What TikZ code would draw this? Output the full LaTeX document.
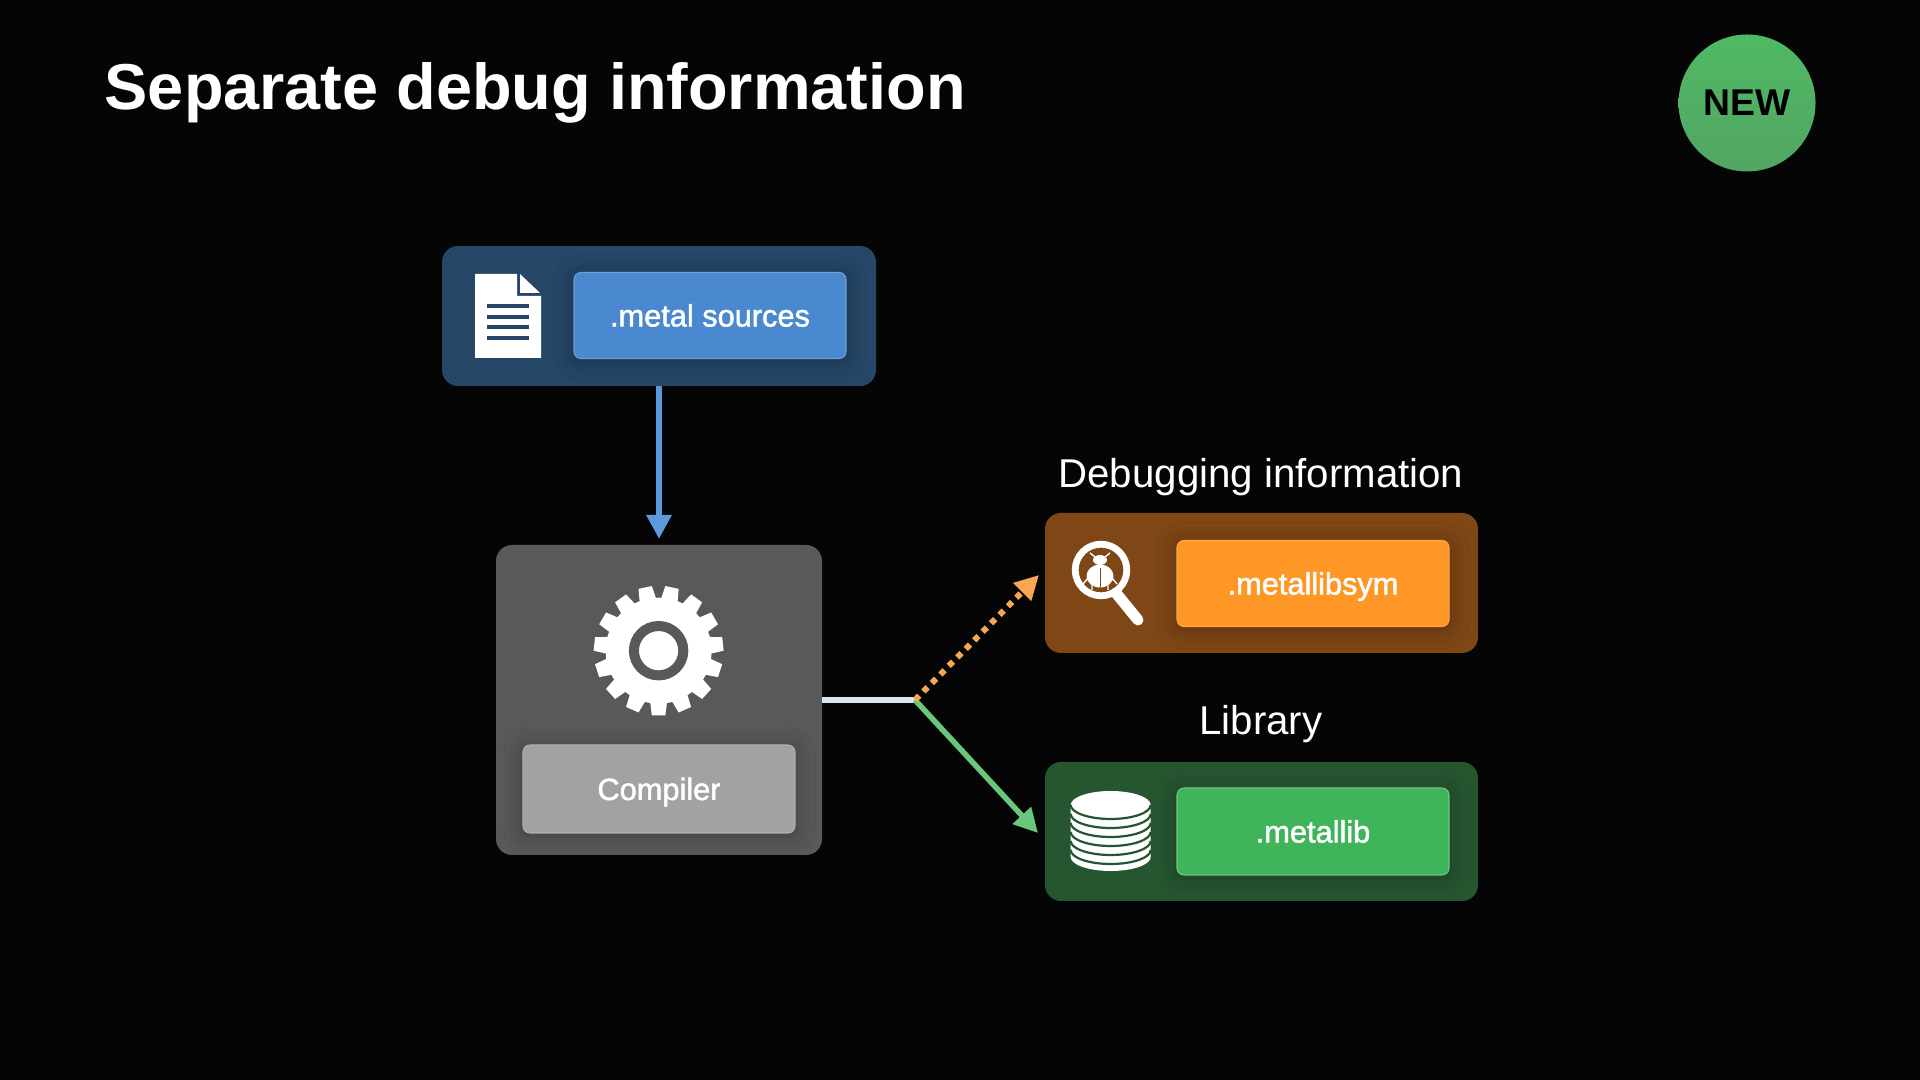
\documentclass[tikz,border=0pt]{standalone}
\usepackage{fontspec}
\setmainfont{Liberation Sans}
\newfontfamily\mediumfont[FakeBold=1.6]{Liberation Sans}
\usetikzlibrary{arrows.meta,shadows.blur}

\definecolor{slidebg}{HTML}{050505}
\definecolor{blueouter}{HTML}{264767}
\definecolor{blueinner}{HTML}{4A89CF}
\definecolor{blueline}{HTML}{5B9BDB}
\definecolor{greyouter}{HTML}{585959}
\definecolor{greyinner}{HTML}{A0A2A4}
\definecolor{orangeouter}{HTML}{7F4715}
\definecolor{orangeinner}{HTML}{FF9727}
\definecolor{orangeline}{HTML}{F9A650}
\definecolor{greenouter}{HTML}{265630}
\definecolor{greeninner}{HTML}{3FB45B}
\definecolor{greenline}{HTML}{68C77B}
\definecolor{stemline}{HTML}{DCE6F0}
\definecolor{badgetop}{HTML}{4FBA64}
\definecolor{badgebottom}{HTML}{52A562}

\tikzset{
    panel/.style={rounded corners=0.16cm, inner sep=0pt, outer sep=0pt, minimum width=#1},
    label box/.style={rounded corners=0.07cm, inner sep=0pt, minimum width=2.72cm, minimum height=0.86cm,
        text=white, font=\fontsize{8.75pt}{10pt}\mediumfont, line width=0.3pt, text height=0.25cm, text depth=0.03cm,
        blur shadow={shadow xshift=0pt, shadow yshift=-0.6pt, shadow blur radius=0.2cm, shadow opacity=28}},
    caption/.style={text=white, font=\fontsize{11.45pt}{13pt}\selectfont},
    flow/.style={line width=0.06cm, -{Triangle[length=0.24cm,width=0.24cm]}}
}

\begin{document}
\begin{tikzpicture}
    \useasboundingbox (0,0) rectangle (19.2,10.8);
    \fill[slidebg] (0,0) rectangle (19.2,10.8);

    % Title and badge
    \node[text=white, anchor=west, inner sep=0pt, font=\fontsize{18.45pt}{22pt}\selectfont\bfseries] (title) at (1.04,9.87) {Separate debug information};
    \node[circle, minimum size=1.37cm, inner sep=0pt, top color=badgetop, bottom color=badgebottom, font=\fontsize{10.6pt}{12pt}\selectfont\bfseries, text=black] (badge) at (17.47,9.77) {NEW};

    % Panels
    \node[panel=4.34cm, minimum height=1.40cm, fill=blueouter] (sources) at (6.59,7.64) {};
    \node[panel=3.26cm, minimum height=3.10cm, fill=greyouter] (compiler) at (6.59,3.80) {};
    \node[panel=4.33cm, minimum height=1.40cm, fill=orangeouter] (debug) at (12.615,4.97) {};
    \node[panel=4.33cm, minimum height=1.39cm, fill=greenouter] (library) at (12.615,2.485) {};

    % Boxes
    \node[label box, fill=blueinner, draw=blueinner!80!white] (metal) at (7.10,7.645) {.metal sources};
    \node[label box, fill=greyinner, draw=greyinner!85!white, minimum height=0.88cm] (compilerbox) at (6.59,2.91) {Compiler};
    \node[label box, fill=orangeinner, draw=orangeinner!85!white] (metallibsym) at (13.13,4.965) {.metallibsym};
    \node[label box, fill=greeninner, draw=greeninner!75!white, minimum height=0.87cm] (metallib) at (13.13,2.485) {.metallib};

    % Captions
    \node[caption] (debugcaption) at (12.61,6.03) {Debugging information};
    \node[caption] (librarycaption) at (12.61,3.56) {Library};

    % Edges
    \coordinate (split) at (9.15,4.01);
    \draw[flow, blueline, shorten >=0.06cm] (sources) -- (compiler);
    \draw[line width=0.06cm, stemline] (compiler.east) -- (compiler.east -| split);
    \draw[flow, greenline, line width=0.055cm] (compiler.east -| split) -- ([shift={(-0.07,-0.015)}]library.west);
    \draw[flow, orangeline, dash pattern=on 0.06cm off 0.06cm] (compiler.east -| split) -- ([shift={(-0.06,0.08)}]debug.west);

    % Document icon
    \fill[white] (4.75,8.06) -- (5.17,8.06) -- (5.17,7.84) -- (5.41,7.84) -- (5.41,7.22) -- (4.75,7.22) -- cycle;
    \fill[white] (5.20,8.06) -- (5.40,7.87) -- (5.20,7.87) -- cycle;
    \foreach \y in {7.74,7.63,7.53,7.42}
        \draw[blueouter, line width=0.04cm] (4.87,\y) -- (5.29,\y);

    % Gear icon
    \fill[white] (6.586,4.293) circle (0.53);
    \foreach \ang in {-90,-66,...,246}
        \fill[white, shift={(6.586,4.293)}] (\ang-10:0.50) -- (\ang-6:0.65) -- (\ang+6:0.65) -- (\ang+10:0.50) -- cycle;
    \draw[greyouter, line width=0.10cm] (6.586,4.293) circle (0.247);

    % Magnifier with beetle
    \draw[white, line width=0.068cm] (11.01,5.10) circle (0.258);
    \draw[white, line width=0.11cm, line cap=round] (11.16,4.87) -- (11.38,4.60);
    \fill[white] (11.00,5.04) ellipse (0.135 and 0.115);
    \fill[white] (11.00,5.20) ellipse (0.07 and 0.05);
    \draw[orangeouter, line width=0.25pt] (11.00,5.12) -- (11.00,4.93);
    \draw[white, line width=0.4pt] (10.95,5.23) -- (10.90,5.27) (11.05,5.23) -- (11.10,5.27)
        (10.88,5.02) -- (10.83,4.96) (11.12,5.02) -- (11.17,4.96)
        (10.92,4.96) -- (10.92,4.90) (11.08,4.96) -- (11.08,4.90);

    % Stack icon
    \fill[white] (10.707,2.75) arc (180:0:0.40 and 0.14) -- (11.507,2.23) arc (360:180:0.40 and 0.14) -- cycle;
    \foreach \y in {2.75,2.66,2.57,2.48,2.39,2.30}
        \draw[greenouter, line width=0.022cm] (10.707,\y) arc (180:360:0.40 and 0.14);
\end{tikzpicture}
\end{document}
